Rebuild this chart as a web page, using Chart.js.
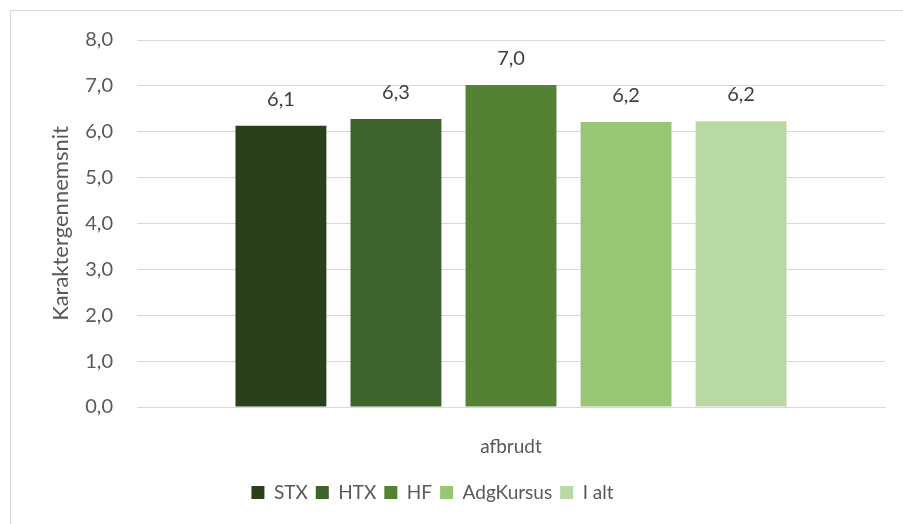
<!DOCTYPE html>
<html>
<head>
<meta charset="utf-8">
<script src="https://cdn.jsdelivr.net/npm/chart.js@4"></script>
<style>
  html, body { margin: 0; padding: 0; background: #ffffff; }
  #wrap { position: relative; width: 903px; height: 524px; }
</style>
</head>
<body>
<div id="wrap"><canvas id="gradeChart" width="903" height="524"></canvas></div>
<script>
// ====== Data ======
const categories = ["afbrudt"];
const seriesNames = ["STX", "HTX", "HF", "AdgKursus", "I alt"];
const seriesValues = [6.13, 6.28, 7.02, 6.21, 6.23];
const seriesColors = ["#2a401b", "#3e632b", "#548235", "#97c775", "#b8d9a3"];
const yTicks = [0, 1, 2, 3, 4, 5, 6, 7, 8];

const fontFamily = "Lato, 'Noto Sans', sans-serif";
const textColor = "#595959";

const fmt = v => Number(v).toFixed(1).replace(".", ",");

// ====== Plugins ======
const frame = {
  id: "frame",
  beforeDraw(chart) {
    const ctx = chart.ctx;
    ctx.save();
    ctx.fillStyle = "#ffffff";
    ctx.fillRect(0, 0, chart.width, chart.height);
    ctx.strokeStyle = "#d9d9d9";
    ctx.lineWidth = 1;
    ctx.strokeRect(10.5, 10.5, chart.width + 20, chart.height + 20);
    ctx.restore();
  }
};

// legend sits a little left of the canvas centre in the original
const legendShift = {
  id: "legendShift",
  afterLayout(chart) {
    if (chart.legend) {
      chart.legend.left -= 10;
      chart.legend.right -= 10;
    }
  }
};

const valueLabels = {
  id: "valueLabels",
  afterDatasetsDraw(chart) {
    const ctx = chart.ctx;
    ctx.save();
    ctx.font = "20px " + fontFamily;
    ctx.fillStyle = "#404040";
    ctx.textAlign = "center";
    ctx.textBaseline = "alphabetic";
    chart.data.datasets.forEach((ds, i) => {
      chart.getDatasetMeta(i).data.forEach((bar, j) => {
        ctx.fillText(fmt(ds.data[j]), bar.x, bar.y - 20);
      });
    });
    ctx.restore();
  }
};

// ====== Chart ======
const datasets = seriesNames.map((name, i) => ({
  label: name,
  data: [seriesValues[i]],
  backgroundColor: seriesColors[i],
  borderWidth: 0,
  categoryPercentage: 0.769,
  barPercentage: 0.79
}));

new Chart(document.getElementById("gradeChart"), {
  type: "bar",
  data: { labels: categories, datasets: datasets },
  options: {
    responsive: false,
    animation: false,
    devicePixelRatio: 1,
    layout: { padding: { top: 40, right: 18, left: 0, bottom: 12 } },
    plugins: {
      tooltip: { enabled: false },
      legend: {
        position: "bottom",
        labels: {
          boxWidth: 13,
          boxHeight: 13,
          padding: 8,
          color: textColor,
          font: { family: fontFamily, size: 19 }
        }
      }
    },
    scales: {
      x: {
        grid: { display: false },
        border: { color: "#d9d9d9", width: 1 },
        ticks: { color: textColor, padding: 20, font: { family: fontFamily, size: 19 } },
        afterFit(scale) { scale.height = 68; }
      },
      y: {
        min: 0,
        max: 8,
        afterBuildTicks(scale) { scale.ticks = yTicks.map(v => ({ value: v })); },
        grid: { color: "#d9d9d9", drawTicks: false },
        border: { display: false },
        ticks: {
          color: textColor,
          padding: 24,
          font: { family: fontFamily, size: 20 },
          callback: v => fmt(v)
        },
        title: {
          display: true,
          text: "Karaktergennemsnit",
          color: textColor,
          padding: { top: 48, bottom: 0 },
          font: { family: fontFamily, size: 22 }
        },
        afterFit(scale) { scale.width = 137; }
      }
    }
  },
  plugins: [frame, legendShift, valueLabels]
});
</script>
</body>
</html>
